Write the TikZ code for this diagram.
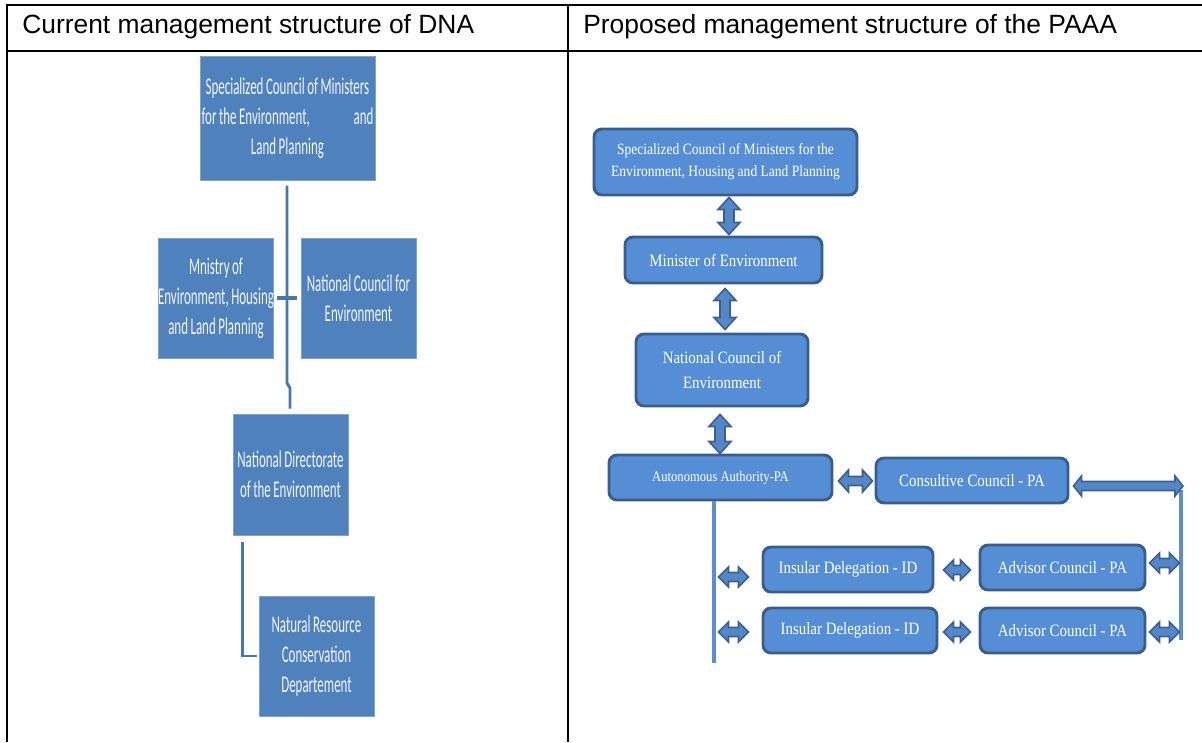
\documentclass[tikz,border=0pt]{standalone}
\usepackage{fontspec}
\setmainfont{Liberation Serif}
\newfontfamily\rfont[FakeStretch=0.86]{Liberation Serif}
\newfontfamily\hdrfont{Liberation Sans}
\newfontfamily\condfont[FakeStretch=0.54,WordSpace=0.85]{Carlito}
\usetikzlibrary{calc}
\definecolor{lbox}{HTML}{4F81BD}
\definecolor{lboxb}{HTML}{7FA3CF}
\definecolor{lline}{HTML}{4677B4}
\definecolor{rbox}{HTML}{558ED5}
\definecolor{rboxb}{HTML}{3A5E8C}
\definecolor{afill}{HTML}{5387C8}
\definecolor{aline}{HTML}{3A6091}
\definecolor{vline}{HTML}{5A8ED0}
\definecolor{ltext}{HTML}{F2F5FA}
\tikzset{
  tbl/.style={line width=1.5pt, black},
  hdr/.style={font=\hdrfont\fontsize{19.8}{22}\selectfont, anchor=base west, inner sep=0},
  lbox/.style={rectangle, fill=lbox, draw=lboxb, line width=0.75pt, text=ltext, align=center, inner sep=0,
    font=\condfont\fontsize{18}{22.5}\selectfont},
  lconn/.style={draw=lline, line width=2.2pt},
  rbox/.style={rectangle, rounded corners=6pt, fill=rbox, draw=rboxb, line width=2.2pt, text=white, align=center, inner sep=0,
    font=\rfont\fontsize{13}{18.75}\selectfont, minimum height=45*0.75pt},
  barrow/.style={fill=afill, draw=aline, line width=1.2pt, line join=miter},
  vconn/.style={draw=vline, line width=3pt},
}
% vertical double block arrow: x,top from #1; bottom from #2
\newcommand\VArrow[5]{%
  \draw[barrow] let \p1=(#1), \p2=(#2) in
  (\x1,\y1) -- (\x1+#3*0.75pt,\y1-#4*0.75pt) -- (\x1+#5*0.75pt,\y1-#4*0.75pt) -- (\x1+#5*0.75pt,\y2+#4*0.75pt)
  -- (\x1+#3*0.75pt,\y2+#4*0.75pt) -- (\x1,\y2) -- (\x1-#3*0.75pt,\y2+#4*0.75pt) -- (\x1-#5*0.75pt,\y2+#4*0.75pt)
  -- (\x1-#5*0.75pt,\y1-#4*0.75pt) -- (\x1-#3*0.75pt,\y1-#4*0.75pt) -- cycle;}
% horizontal double block arrow: left,y from #1; right from #2
\newcommand\HArrow[5]{%
  \draw[barrow] let \p1=(#1), \p2=(#2) in
  (\x1,\y1) -- (\x1+#4*0.75pt,\y1+#3*0.75pt) -- (\x1+#4*0.75pt,\y1+#5*0.75pt) -- (\x2-#4*0.75pt,\y1+#5*0.75pt)
  -- (\x2-#4*0.75pt,\y1+#3*0.75pt) -- (\x2,\y1) -- (\x2-#4*0.75pt,\y1-#3*0.75pt) -- (\x2-#4*0.75pt,\y1-#5*0.75pt)
  -- (\x1+#4*0.75pt,\y1-#5*0.75pt) -- (\x1+#4*0.75pt,\y1-#3*0.75pt) -- cycle;}
\begin{document}
\begin{tikzpicture}[x=0.75pt,y=-0.75pt]
\useasboundingbox (0,0) rectangle (1202,742);
% table
\draw[tbl] (5.5,5) -- (1202,5);
\draw[tbl] (6.5,5) -- (6.5,742);
\draw[tbl] (6.5,51) -- (1202,51);
\draw[tbl] (568,5) -- (568,742);
\node[hdr] (h1) at (22,34) {Current management structure of DNA};
\node[hdr] (h2) at (583,34) {Proposed management structure of the PAAA};

% ---------- left diagram ----------
\node[lbox, minimum width=175*0.75pt, minimum height=123*0.75pt] (B1) at (287.5,118.5)
  {Specialized Council of Ministers\\ \makebox[129pt]{for the Environment,\hfill and}\\ Land Planning};
\node[lbox, minimum width=114*0.75pt, minimum height=120*0.75pt] (Min) at (216,298)
  {Mnistry of\\ Environment, Housing\\ and Land Planning};
\node[lbox, minimum width=115*0.75pt, minimum height=120*0.75pt] (NCF) at (358.5,298)
  {National Council for\\ Environment};
\node[lbox, minimum width=115*0.75pt, minimum height=121*0.75pt] (ND) at (290.5,474.5)
  {National Directorate\\ of the Environment};
\node[lbox, minimum width=115*0.75pt, minimum height=120*0.75pt] (NR) at (316.5,656)
  {Natural Resource\\ Conservation\\ Departement};
\coordinate (j1) at (287,383);
\coordinate (j2) at (290,388);
\draw[lconn] ($(B1.south)+(-0.5,5)$) -- (j1) -- (j2) -- ($(ND.north)+(-0.5,-5)$);
\draw[lconn, line width=3pt] ($(Min.east)+(3,0)$) -- ($(NCF.west)+(-4,0)$);
\draw[lconn] ($(ND.south west)+(10,6)$) |- ($(NR.west)+(-2,0)$);

% ---------- right diagram ----------
\node[rbox, minimum width=263*0.75pt, minimum height=66*0.75pt, font=\rfont\fontsize{11.8}{16.5}\selectfont] (S) at (725.5,162)
  {Specialized Council of Ministers for the\\ Environment, Housing and Land Planning};
\node[rbox, minimum width=197*0.75pt, minimum height=46*0.75pt] (M) at (723.5,260) {Minister of Environment};
\node[rbox, minimum width=172*0.75pt, minimum height=72*0.75pt] (NC) at (722,370) {National Council of\\ Environment};
\node[rbox, minimum width=223*0.75pt, font=\rfont\fontsize{11}{12}\selectfont] (AA) at (720.5,477.5) {Autonomous Authority-PA};
\node[rbox, minimum width=192*0.75pt] (CC) at (972,480.5) {Consultive Council - PA};
\node[rbox, minimum width=170*0.75pt] (ID1) at (848,569.5) {Insular Delegation - ID};
\node[rbox, minimum width=165*0.75pt] (AC1) at (1062.5,567.5) {Advisor Council - PA};
\node[rbox, minimum width=174*0.75pt] (ID2) at (850,630.5) {Insular Delegation - ID};
\node[rbox, minimum width=165*0.75pt] (AC2) at (1062.5,630.5) {Advisor Council - PA};

\VArrow{$(S.south)+(3.5,1)$}{$(M.north)+(0,-1)$}{11}{12}{5}
\VArrow{$(M.south)+(1.5,4)$}{$(NC.north)+(0,-3)$}{11}{12}{5}
\VArrow{$(NC.south)+(-2,7)$}{$(AA.north)+(0,0)$}{11}{12}{5}
\HArrow{$(AA.east)+(5,3.5)$}{$(CC.west)+(-2,0)$}{11}{10}{4.5}

\coordinate (rj) at (1183,486);
\coordinate (rb) at (1181,640);
\coordinate (lb) at (714,663);
\draw[vconn] ($(AA.south)+(-6.5,0)$) -- (lb);
\draw[vconn] ($(rj)+(-2,4)$) -- (rb);
\HArrow{$(CC.east)+(4,5.5)$}{rj}{10}{8}{4.5}

\HArrow{$(ID1.west)+(-43,7.5)$}{$(ID1.west)+(-13,0)$}{10}{10}{4.5}
\HArrow{$(ID2.west)+(-43,1.5)$}{$(ID2.west)+(-13,0)$}{10}{10}{4.5}
\HArrow{$(ID1.east)+(9,0.5)$}{$(AC1.west)+(-8,0)$}{10}{10}{4.5}
\HArrow{$(ID2.east)+(5,1.5)$}{$(AC2.west)+(-8,0)$}{10}{10}{4.5}
\HArrow{$(AC1.east)+(3,-4.5)$}{$(AC1.east)+(33,0)$}{10}{10}{4.5}
\HArrow{$(AC2.east)+(3,1.5)$}{$(AC2.east)+(33,0)$}{10}{10}{4.5}
\end{tikzpicture}
\end{document}
